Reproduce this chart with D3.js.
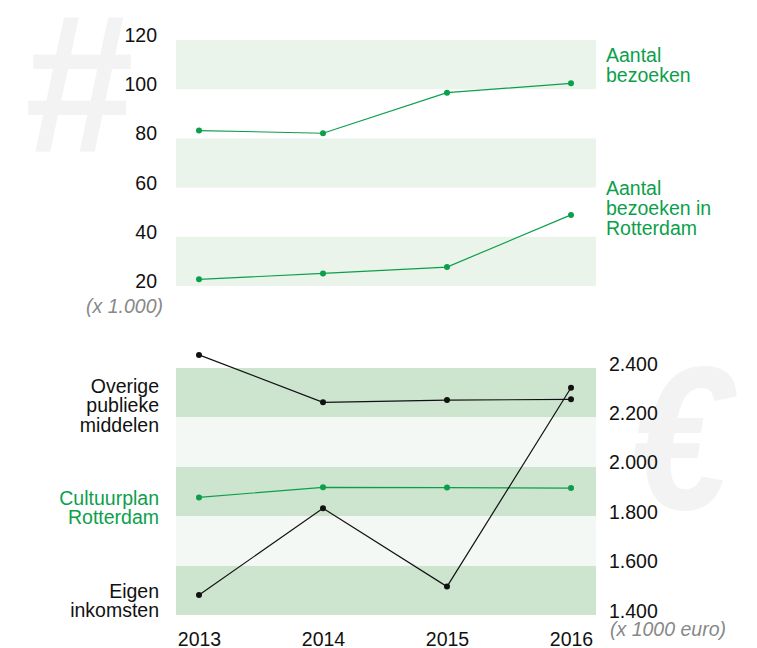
<!DOCTYPE html>
<html><head><meta charset="utf-8">
<script src="https://cdn.jsdelivr.net/npm/d3@7"></script>
<style>body{margin:0;background:#fff}svg{display:block;font-family:"Liberation Sans",Arial,sans-serif}</style>
</head><body>
<svg id="c" width="757" height="648"></svg>
<script>
const years = ["2013","2014","2015","2016"];
// top chart (x 1.000)
const topTicks = [20,40,60,80,100,120];
const topBands = [[100,120],[60,80],[20,40]];
const bezoeken = [83.2,82.1,98.6,102.4];
const bezoekenRotterdam = [22.7,25.1,27.7,48.9];
// bottom chart (x 1000 euro)
const botTicks = [1400,1600,1800,2000,2200,2400];
const botDarkBands = [[2200,2400],[1800,2000],[1400,1600]];
const botLightBands = [[2000,2200],[1600,1800]];
const overige = [2453,2261,2270,2273];
const cultuurplan = [1876,1917,1916,1914];
const eigen = [1481,1832,1515,2320];

const GREEN = "#0c9f4b";
const FS = 19.5;
const svg = d3.select("#c");
const x = d3.scalePoint().domain(years).range([199,571]);
const bandX0 = 176, bandX1 = 596;

// background symbols
svg.append("text").attr("x",25).attr("y",152).attr("font-size",196).attr("font-weight","bold")
  .attr("fill","#f3f3f3").text("#");
svg.append("text").attr("transform","translate(631,509) scale(0.91,1.04)")
  .attr("font-size",196).attr("font-weight","bold").attr("font-style","italic")
  .attr("fill","#f3f3f3").text("€");

// ---- top
const yT = d3.scaleLinear().domain([20,120]).range([286,40]);
svg.selectAll(".tb").data(topBands).enter().append("rect")
  .attr("x",bandX0).attr("width",bandX1-bandX0)
  .attr("y",d=>yT(d[1])).attr("height",d=>yT(d[0])-yT(d[1])).attr("fill","#eaf4eb");
const axT = svg.append("g").attr("transform","translate(157,1.5)")
  .call(d3.axisLeft(yT).tickValues(topTicks).tickSize(0).tickPadding(0));
axT.select(".domain").remove();
axT.selectAll("text").attr("font-size",FS).attr("fill","#111").attr("dy",0).attr("font-family","Liberation Sans, Arial, sans-serif");
svg.append("text").attr("x",163).attr("y",313).attr("text-anchor","end").attr("font-size",FS)
  .attr("font-style","italic").attr("fill","#888").text("(x 1.000)");

function series(data, y, color){
  const line = d3.line().x((d,i)=>x(years[i])).y(d=>y(d));
  svg.append("path").attr("d",line(data)).attr("fill","none").attr("stroke",color).attr("stroke-width",1.2);
  svg.selectAll(null).data(data).enter().append("circle")
    .attr("cx",(d,i)=>x(years[i])).attr("cy",d=>y(d)).attr("r",3).attr("fill",color);
}
series(bezoeken,yT,GREEN);
series(bezoekenRotterdam,yT,GREEN);

function multi(xp, ys, lh, lines, color, anchor){
  const t = svg.append("text").attr("x",xp).attr("font-size",FS).attr("fill",color).attr("text-anchor",anchor);
  lines.forEach((l,i)=>t.append("tspan").attr("x",xp).attr("y",ys+i*lh).text(l));
}
multi(606,62,19.5,["Aantal","bezoeken"],GREEN,"start");
multi(606,195,20,["Aantal","bezoeken in","Rotterdam"],GREEN,"start");

// ---- bottom
const yB = d3.scaleLinear().domain([1400,2400]).range([615,368]);
svg.selectAll(".bd").data(botDarkBands).enter().append("rect")
  .attr("x",bandX0).attr("width",bandX1-bandX0)
  .attr("y",d=>yB(d[1])).attr("height",d=>yB(d[0])-yB(d[1])).attr("fill","#cde4cf");
svg.selectAll(".bl").data(botLightBands).enter().append("rect")
  .attr("x",bandX0).attr("width",bandX1-bandX0)
  .attr("y",d=>yB(d[1])).attr("height",d=>yB(d[0])-yB(d[1])).attr("fill","#f4f8f4");
const axB = svg.append("g").attr("transform","translate(609,2)")
  .call(d3.axisRight(yB).tickValues(botTicks).tickSize(0).tickPadding(0)
    .tickFormat(d=>d3.format(",")(d).replace(",",".")));
axB.select(".domain").remove();
axB.selectAll("text").attr("font-size",FS).attr("fill","#111").attr("dy",0).attr("font-family","Liberation Sans, Arial, sans-serif");
svg.append("text").attr("x",610).attr("y",636).attr("font-size",FS)
  .attr("font-style","italic").attr("fill","#888").text("(x 1000 euro)");

series(overige,yB,"#111");
series(cultuurplan,yB,GREEN);
series(eigen,yB,"#111");

multi(159,393,19.3,["Overige","publieke","middelen"],"#111","end");
multi(159,505,19.3,["Cultuurplan","Rotterdam"],GREEN,"end");
multi(159,598,18.5,["Eigen","inkomsten"],"#111","end");

// x axis
const axX = svg.append("g").attr("transform","translate(0,646)")
  .call(d3.axisBottom(x).tickSize(0).tickPadding(0));
axX.select(".domain").remove();
axX.selectAll("text").attr("font-size",FS).attr("fill","#111").attr("dy",0).attr("y",0).attr("font-family","Liberation Sans, Arial, sans-serif");
</script>
</body></html>
